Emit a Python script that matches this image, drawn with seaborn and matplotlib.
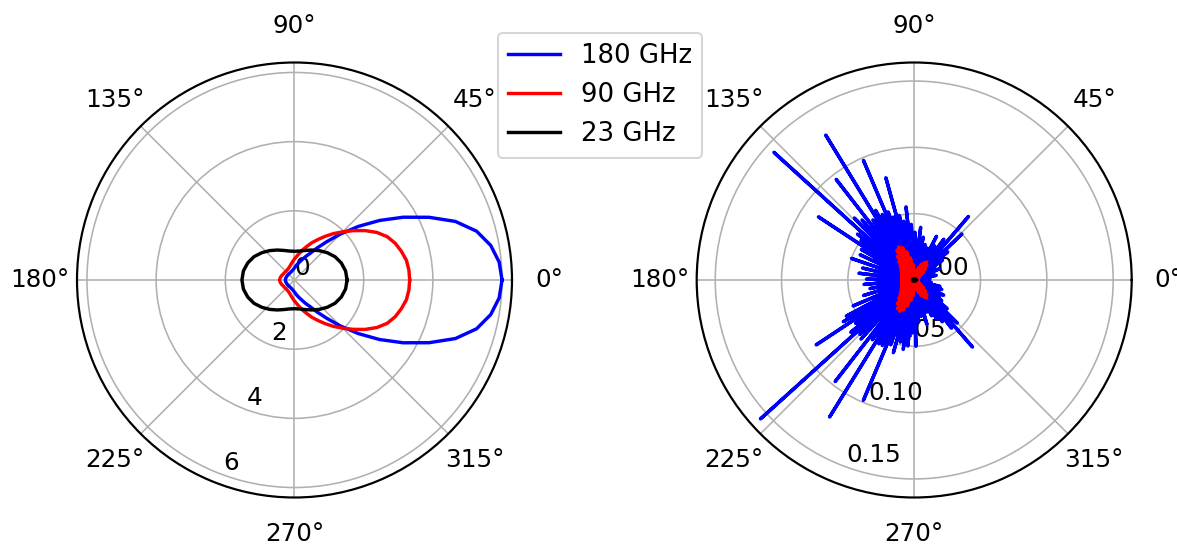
import numpy as np
import matplotlib
matplotlib.use("Agg")
import matplotlib.pyplot as plt
import seaborn as sns

plt.rcParams['font.family'] = ['DejaVu Sans']
plt.rcParams['font.size'] = 12.3

# ---------------- data: left panel ----------------
left_deg = [0, 5, 10, 15, 20, 25, 30, 35, 40, 45, 50, 55, 60, 65, 70, 75, 80, 85, 90,
            100, 110, 120, 130, 140, 150, 160, 170, 180, 190, 200, 210, 220, 230, 240, 250, 260, 270,
            275, 280, 285, 290, 295, 300, 305, 310, 315, 320, 325, 330, 335, 340, 345, 350, 355, 360]
left_blue_r = [6.00, 5.94, 5.76, 5.45, 4.95, 4.29, 3.63, 3.00, 2.41, 1.88, 1.44, 1.12, 0.88, 0.74, 0.62, 0.53, 0.46, 0.40, 0.35,
               0.29, 0.26, 0.245, 0.24, 0.24, 0.245, 0.25, 0.26, 0.265, 0.26, 0.25, 0.245, 0.24, 0.24, 0.245, 0.26, 0.29, 0.35,
               0.40, 0.46, 0.53, 0.62, 0.74, 0.88, 1.12, 1.44, 1.88, 2.41, 3.00, 3.63, 4.29, 4.95, 5.45, 5.76, 5.94, 6.00]
left_red_r = [3.33, 3.32, 3.285, 3.20, 3.10, 2.96, 2.75, 2.49, 2.22, 1.97, 1.75, 1.54, 1.35, 1.19, 1.03, 0.90, 0.78, 0.68, 0.61,
              0.49, 0.41, 0.37, 0.355, 0.355, 0.365, 0.39, 0.415, 0.435, 0.415, 0.39, 0.365, 0.355, 0.355, 0.37, 0.41, 0.49, 0.61,
              0.68, 0.78, 0.90, 1.03, 1.19, 1.35, 1.54, 1.75, 1.97, 2.22, 2.49, 2.75, 2.96, 3.10, 3.20, 3.285, 3.32, 3.33]

left_black_deg = [0, 10, 20, 30, 40, 50, 60, 70, 80, 90, 100, 110, 120, 130, 140, 150, 160, 170, 180,
                  190, 200, 210, 220, 230, 240, 250, 260, 270, 280, 290, 300, 310, 320, 330, 340, 350, 360]
left_black_r = [1.52, 1.50, 1.44, 1.35, 1.23, 1.11, 1.00, 0.91, 0.85, 0.83, 0.85, 0.91, 1.00, 1.11, 1.23, 1.35, 1.44, 1.50, 1.52,
                1.50, 1.44, 1.35, 1.23, 1.11, 1.00, 0.91, 0.85, 0.83, 0.85, 0.91, 1.00, 1.11, 1.23, 1.35, 1.44, 1.50, 1.52]

# ---------------- data: right panel ----------------
# 180 GHz: narrow spikes (base, tip, base)
right_blue_deg = [0,
                  4, 5, 6, 11, 12, 13, 17, 18, 19, 23, 24, 25,
                  29, 30, 31, 34, 35, 36, 39, 40, 41, 43, 44, 45,
                  48.5, 49.5, 50.5, 53, 54, 55, 58, 59, 60, 62, 63, 64,
                  67, 68, 69, 72, 73, 74, 77, 78, 79, 82, 83, 84,
                  88, 89, 90, 92, 93, 94, 95.4, 96.4, 97.4, 99, 100, 101,
                  102.2, 103, 103.8, 104.7, 105.5, 106.3, 107.7, 108.5, 109.3, 110.3, 111, 111.7,
                  112.3, 113, 113.8, 115.2, 116, 116.8, 118.2, 119, 119.8, 120.6, 121.4, 122.2,
                  123.7, 124.5, 125.3, 127, 127.8, 128.6, 130.2, 131, 131.8, 133.2, 134, 134.8,
                  136.9, 137.7, 138.5, 140.2, 141, 141.8, 142.8, 143.5, 144.2, 145.8, 146.6, 147.4,
                  149.2, 150, 150.8, 154, 155, 156, 160, 161, 162, 166, 167, 168,
                  172, 173, 174, 178, 179, 180, 184, 185, 186, 190, 191, 192,
                  196, 197, 198, 202, 203, 204,
                  207.2, 208, 208.8, 209.8, 210.5, 211.2, 212.7, 213.5, 214.3, 215.7, 216.5, 217.3,
                  218.7, 219.5, 220.3, 221.3, 222.1, 222.9, 224.2, 225, 225.8, 227.2, 228, 228.8,
                  231.3, 232.1, 232.9, 234.2, 235, 235.8, 237.5, 238.3, 239.1, 240.2, 241, 241.8,
                  243.2, 244, 244.8, 246.3, 247.1, 247.9, 249.2, 250, 250.8, 253.2, 254, 254.8,
                  256.7, 257.5, 258.3, 260.2, 261, 261.8, 263.7, 264.5, 265.3, 267.2, 268, 268.8,
                  270.7, 271.5, 272.3, 275, 276, 277, 280, 281, 282, 285, 286, 287,
                  290, 291, 292, 295, 296, 297, 299, 300, 301, 303, 304, 305,
                  307, 307.8, 308.6, 310.2, 311, 311.8, 314, 315, 316, 318, 319, 320,
                  322, 323, 324, 326, 327, 328, 331.7, 332.7, 333.7, 336, 337, 338,
                  340, 341, 342, 345, 346, 347, 351, 352, 353, 356, 357, 358,
                  360]
right_blue_r = [.004,
                .004, .012, .004, .004, .017, .004, .004, .015, .004, .004, .021, .004,
                .004, .018, .004, .004, .026, .004, .004, .033, .004, .004, .050, .004,
                .004, .063, .004, .004, .038, .004, .004, .030, .004, .004, .037, .004,
                .004, .026, .004, .005, .028, .005, .005, .033, .005, .005, .040, .005,
                .005, .036, .005, .006, .042, .006, .006, .0555, .006, .006, .045, .006,
                .006, .050, .006, .006, .080, .006, .006, .050, .006, .006, .055, .006,
                .006, .098, .006, .006, .055, .006, .006, .060, .006, .006, .128, .006,
                .006, .055, .006, .007, .096, .007, .007, .060, .007, .007, .065, .007,
                .007, .143, .007, .007, .055, .007, .008, .050, .008, .008, .0865, .008,
                .008, .046, .008, .007, .045, .007, .007, .050, .007, .007, .040, .007,
                .007, .042, .007, .007, .036, .007, .007, .038, .007, .007, .034, .007,
                .007, .040, .007, .007, .050, .007,
                .007, .058, .007, .007, .062, .007, .007, .0886, .007, .007, .055, .007,
                .007, .062, .007, .007, .1562, .007, .007, .058, .007, .007, .060, .007,
                .007, .097, .007, .006, .055, .006, .006, .1214, .006, .006, .055, .006,
                .006, .055, .006, .006, .0985, .006, .006, .052, .006, .006, .057, .006,
                .006, .048, .006, .005, .053, .005, .005, .050, .005, .005, .040, .005,
                .005, .050, .005, .005, .032, .005, .005, .028, .005, .004, .035, .004,
                .004, .026, .004, .004, .030, .004, .004, .034, .004, .004, .038, .004,
                .004, .046, .004, .004, .067, .004, .004, .046, .004, .004, .033, .004,
                .004, .026, .004, .004, .023, .004, .004, .025, .004, .004, .020, .004,
                .004, .022, .004, .004, .020, .004, .004, .013, .004, .004, .010, .004,
                .004]

right_red_deg = [0, 2.5, 5, 7.5, 10, 12.5, 15, 17.5, 20, 22.5, 25, 27.5,
                 30, 32.5, 35, 37.5, 40, 42.5, 45, 47.5, 50, 52.5, 55, 57.5,
                 60, 62.5, 65, 67.5, 70, 72.5, 75, 77.5, 80, 82.5, 85, 87.5,
                 90, 92.5, 95, 97.5, 100, 102.5, 105, 107.5, 110, 112.5, 115, 117.5,
                 120, 122.5, 125, 127.5, 130, 132.5, 135, 137.5, 140, 142.5, 145, 147.5,
                 150, 152.5, 155, 157.5, 160, 162.5, 165, 167.5, 170, 172.5, 175, 177.5,
                 180, 182.5, 185, 187.5, 190, 192.5, 195, 197.5, 200, 202.5, 205, 207.5,
                 210, 212.5, 215, 217.5, 220, 222.5, 225, 227.5, 230, 232.5, 235, 237.5,
                 240, 242.5, 245, 247.5, 250, 252.5, 255, 257.5, 260, 262.5, 265, 267.5,
                 270, 272.5, 275, 277.5, 280, 282.5, 285, 287.5, 290, 292.5, 295, 297.5,
                 300, 302.5, 305, 307.5, 310, 312.5, 315, 317.5, 320, 322.5, 325, 327.5,
                 330, 332.5, 335, 337.5, 340, 342.5, 345, 347.5, 350, 352.5, 355, 357.5,
                 360]
right_red_r = [.0025, .001, .0025, .001, .0025, .001, .003, .001, .003, .001, .0035, .001,
               .004, .001, .006, .001, .009, .001, .012, .001, .015, .001, .0165, .001,
               .015, .001, .013, .001, .010, .001, .007, .001, .006, .001, .006, .001,
               .008, .001, .012, .001, .017, .001, .022, .001, .026, .001, .0275, .001,
               .026, .001, .022, .001, .018, .001, .015, .001, .013, .001, .012, .001,
               .011, .001, .010, .001, .010, .001, .0095, .001, .0095, .001, .0095, .001,
               .0095, .001, .0095, .001, .0095, .001, .0095, .001, .010, .001, .010, .001,
               .011, .001, .012, .001, .013, .001, .015, .001, .018, .001, .022, .001,
               .025, .001, .026, .001, .024, .001, .020, .001, .016, .001, .012, .001,
               .008, .001, .006, .001, .006, .001, .007, .001, .010, .001, .013, .001,
               .015, .001, .0165, .001, .015, .001, .012, .001, .009, .001, .006, .001,
               .004, .001, .003, .001, .003, .001, .0025, .001, .0025, .001, .0025, .001,
               .0025]

right_black_deg = [0, 45, 90, 135, 180, 225, 270, 315, 360]
right_black_r = [.0015, .0012, .0008, .0012, .0015, .0012, .0008, .0012, .0015]

labels = ["180 GHz", "90 GHz", "23 GHz"]
colors = ["blue", "red", "black"]

left_rticks = [0, 2, 4, 6]
right_rticks = [0.00, 0.05, 0.10, 0.15]

# ---------------- figure ----------------
fig = plt.figure(figsize=(1177 / 144, 549 / 144), dpi=144)
axL = fig.add_axes([0.06542, 0.09381, 0.36958, 0.79235], projection='polar')
axR = fig.add_axes([0.59193, 0.09381, 0.36958, 0.79235], projection='polar')

left_sets = [(left_deg, left_blue_r), (left_deg, left_red_r), (left_black_deg, left_black_r)]
right_sets = [(right_blue_deg, right_blue_r), (right_red_deg, right_red_r), (right_black_deg, right_black_r)]

for ax, sets in [(axL, left_sets), (axR, right_sets)]:
    for (deg, r), lab, col in zip(sets, labels, colors):
        sns.lineplot(x=np.deg2rad(np.array(deg, dtype=float)), y=np.array(r, dtype=float),
                     ax=ax, sort=False, estimator=None, color=col, linewidth=1.7, label=lab)
    if ax.get_legend() is not None:
        ax.get_legend().remove()
    ax.set_xlabel('')
    ax.set_ylabel('')
    ax.set_rlabel_position(250)
    ax.tick_params(axis='x', pad=8)
    ax.spines['polar'].set_linewidth(1.1)

axL.set_rticks(left_rticks)
axR.set_rticks(right_rticks)
axR.set_yticklabels([f"{v:.2f}" for v in right_rticks])

handles = axL.get_lines()[:3]
fig.legend(handles, labels, loc='upper center', bbox_to_anchor=(0.5098, 0.9399),
           borderaxespad=0, fontsize=13)

fig.savefig("out.png", dpi=144)
